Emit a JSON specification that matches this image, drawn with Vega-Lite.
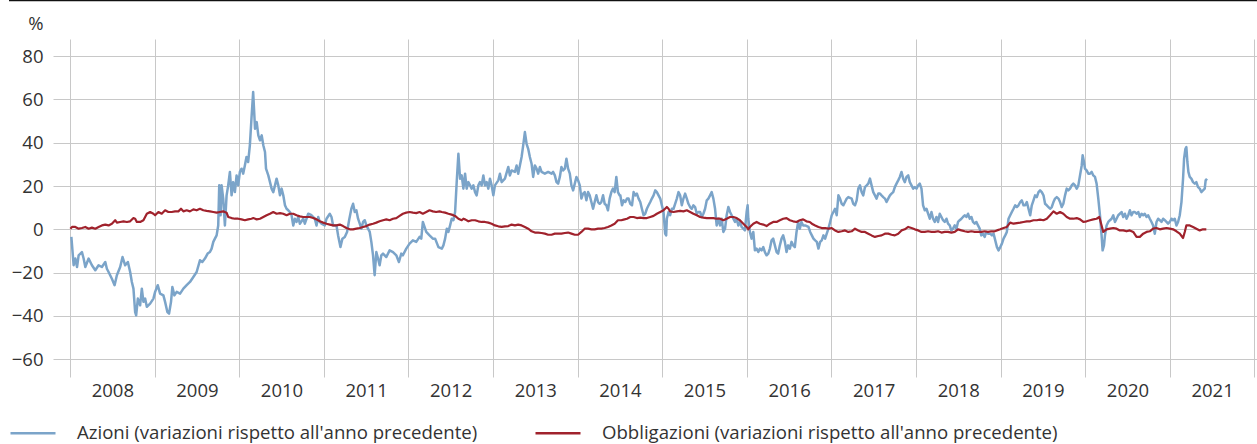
{
"$schema":"https://vega.github.io/schema/vega-lite/v6.json",
"width":1204,"height":338,
"autosize":{"type":"none"},
"padding":{"left":53,"top":39,"right":0,"bottom":67},
"background":"white",
"config":{"view":{"stroke":null},"font":"Open Sans"},
"datasets":{
"azioni":[
{"t":2008.016,"v":-3.5},{"t":2008.043,"v":-16.6},{"t":2008.063,"v":-13.5},{"t":2008.083,"v":-17.4},{"t":2008.102,"v":-12.0},{"t":2008.141,"v":-10.5},{"t":2008.161,"v":-13.5},{"t":2008.181,"v":-17.4},{"t":2008.220,"v":-13.5},{"t":2008.259,"v":-16.6},{"t":2008.299,"v":-18.9},{"t":2008.338,"v":-16.6},{"t":2008.377,"v":-17.4},{"t":2008.417,"v":-15.1},{"t":2008.436,"v":-18.2},{"t":2008.456,"v":-19.7},{"t":2008.495,"v":-22.8},{"t":2008.527,"v":-25.8},{"t":2008.554,"v":-21.2},{"t":2008.593,"v":-17.4},{"t":2008.621,"v":-12.8},{"t":2008.652,"v":-16.6},{"t":2008.684,"v":-15.1},{"t":2008.711,"v":-19.7},{"t":2008.731,"v":-24.3},{"t":2008.750,"v":-27.4},{"t":2008.770,"v":-38.2},{"t":2008.782,"v":-39.7},{"t":2008.802,"v":-32.0},{"t":2008.829,"v":-35.1},{"t":2008.849,"v":-27.4},{"t":2008.868,"v":-33.5},{"t":2008.888,"v":-32.0},{"t":2008.908,"v":-35.8},{"t":2008.947,"v":-34.3},{"t":2008.986,"v":-32.0},{"t":2009.006,"v":-28.9},{"t":2009.037,"v":-25.8},{"t":2009.065,"v":-29.7},{"t":2009.104,"v":-30.5},{"t":2009.124,"v":-33.5},{"t":2009.151,"v":-38.2},{"t":2009.171,"v":-38.9},{"t":2009.194,"v":-33.5},{"t":2009.210,"v":-26.6},{"t":2009.234,"v":-30.5},{"t":2009.261,"v":-28.9},{"t":2009.301,"v":-29.7},{"t":2009.340,"v":-27.4},{"t":2009.379,"v":-25.8},{"t":2009.418,"v":-24.3},{"t":2009.458,"v":-22.0},{"t":2009.497,"v":-19.7},{"t":2009.536,"v":-14.3},{"t":2009.564,"v":-15.1},{"t":2009.595,"v":-13.5},{"t":2009.627,"v":-11.2},{"t":2009.654,"v":-10.5},{"t":2009.674,"v":-8.9},{"t":2009.694,"v":-5.8},{"t":2009.713,"v":-4.3},{"t":2009.733,"v":-2.8},{"t":2009.752,"v":1.8},{"t":2009.764,"v":20.3},{"t":2009.780,"v":6.5},{"t":2009.792,"v":20.3},{"t":2009.811,"v":14.2},{"t":2009.831,"v":1.8},{"t":2009.851,"v":15.7},{"t":2009.870,"v":20.3},{"t":2009.890,"v":26.5},{"t":2009.910,"v":15.7},{"t":2009.929,"v":21.8},{"t":2009.949,"v":17.2},{"t":2009.969,"v":24.9},{"t":2009.988,"v":20.3},{"t":2010.008,"v":26.5},{"t":2010.028,"v":28.0},{"t":2010.047,"v":25.7},{"t":2010.067,"v":29.5},{"t":2010.086,"v":33.4},{"t":2010.106,"v":31.1},{"t":2010.126,"v":38.8},{"t":2010.145,"v":51.1},{"t":2010.165,"v":63.4},
{"t":2010.187,"v":46.5},{"t":2010.207,"v":49.5},{"t":2010.226,"v":43.4},{"t":2010.246,"v":41.1},{"t":2010.266,"v":43.4},{"t":2010.285,"v":38.8},{"t":2010.305,"v":35.7},{"t":2010.317,"v":28.0},{"t":2010.344,"v":24.9},{"t":2010.364,"v":21.8},{"t":2010.383,"v":18.8},{"t":2010.403,"v":17.2},{"t":2010.423,"v":20.3},{"t":2010.442,"v":23.4},{"t":2010.462,"v":20.3},{"t":2010.482,"v":15.7},{"t":2010.501,"v":18.8},{"t":2010.521,"v":15.7},{"t":2010.541,"v":11.1},{"t":2010.560,"v":9.5},{"t":2010.580,"v":8.8},{"t":2010.600,"v":8.0},{"t":2010.619,"v":6.5},{"t":2010.639,"v":1.8},{"t":2010.658,"v":4.9},{"t":2010.678,"v":3.4},{"t":2010.698,"v":5.7},{"t":2010.717,"v":2.6},{"t":2010.757,"v":4.9},{"t":2010.776,"v":2.6},{"t":2010.816,"v":7.2},{"t":2010.855,"v":6.5},{"t":2010.894,"v":4.9},{"t":2010.914,"v":1.8},{"t":2010.934,"v":5.7},{"t":2010.953,"v":3.4},{"t":2010.973,"v":2.6},{"t":2011.012,"v":1.8},{"t":2011.032,"v":4.9},{"t":2011.071,"v":7.2},{"t":2011.091,"v":5.7},{"t":2011.110,"v":1.8},{"t":2011.150,"v":1.8},{"t":2011.169,"v":-2.8},{"t":2011.197,"v":-8.2},{"t":2011.220,"v":-4.3},{"t":2011.248,"v":-3.5},{"t":2011.275,"v":-1.2},{"t":2011.299,"v":4.2},{"t":2011.326,"v":9.5},{"t":2011.346,"v":11.8},{"t":2011.366,"v":8.0},{"t":2011.385,"v":8.8},{"t":2011.405,"v":4.9},{"t":2011.425,"v":2.6},{"t":2011.444,"v":0.3},{"t":2011.464,"v":3.4},{"t":2011.484,"v":4.2},{"t":2011.503,"v":1.8},{"t":2011.523,"v":0.3},{"t":2011.543,"v":-1.2},{"t":2011.562,"v":-5.8},{"t":2011.582,"v":-12.0},{"t":2011.601,"v":-21.2},{"t":2011.621,"v":-10.5},{"t":2011.641,"v":-13.5},{"t":2011.660,"v":-16.6},{"t":2011.680,"v":-12.0},{"t":2011.700,"v":-11.2},{"t":2011.739,"v":-12.8},{"t":2011.778,"v":-9.7},{"t":2011.818,"v":-10.5},{"t":2011.857,"v":-12.0},{"t":2011.888,"v":-15.1},{"t":2011.916,"v":-11.2},{"t":2011.935,"v":-12.0},{"t":2011.975,"v":-8.9},{"t":2012.014,"v":-6.6},{"t":2012.053,"v":-5.1},{"t":2012.093,"v":-5.8},{"t":2012.132,"v":-3.5},{"t":2012.152,"v":-4.3},{"t":2012.171,"v":3.4},{"t":2012.191,"v":1.1},{"t":2012.211,"v":-1.2},{"t":2012.250,"v":-2.8},{"t":2012.289,"v":-4.3},
{"t":2012.316,"v":-4.3},{"t":2012.355,"v":-8.2},{"t":2012.395,"v":-8.9},{"t":2012.414,"v":-7.4},{"t":2012.434,"v":-4.3},{"t":2012.454,"v":0.3},{"t":2012.473,"v":-1.2},{"t":2012.493,"v":1.8},{"t":2012.512,"v":4.9},{"t":2012.532,"v":4.2},{"t":2012.552,"v":8.0},{"t":2012.571,"v":21.8},{"t":2012.591,"v":34.9},{"t":2012.611,"v":23.4},{"t":2012.630,"v":24.9},{"t":2012.650,"v":18.8},{"t":2012.670,"v":25.7},{"t":2012.689,"v":18.8},{"t":2012.709,"v":21.8},{"t":2012.729,"v":20.3},{"t":2012.748,"v":18.8},{"t":2012.768,"v":20.3},{"t":2012.788,"v":17.2},{"t":2012.807,"v":15.7},{"t":2012.827,"v":20.3},{"t":2012.846,"v":21.8},{"t":2012.866,"v":20.3},{"t":2012.886,"v":24.9},{"t":2012.905,"v":20.3},{"t":2012.925,"v":21.8},{"t":2012.945,"v":18.8},{"t":2012.964,"v":23.4},{"t":2012.984,"v":20.3},{"t":2013.004,"v":15.7},{"t":2013.023,"v":20.3},{"t":2013.063,"v":22.6},{"t":2013.082,"v":25.7},{"t":2013.102,"v":21.8},{"t":2013.141,"v":23.4},{"t":2013.181,"v":28.8},{"t":2013.200,"v":24.9},{"t":2013.220,"v":27.2},{"t":2013.259,"v":26.5},{"t":2013.279,"v":29.5},{"t":2013.298,"v":25.7},{"t":2013.318,"v":29.5},{"t":2013.338,"v":33.4},{"t":2013.357,"v":38.8},{"t":2013.377,"v":44.9},{"t":2013.397,"v":39.5},{"t":2013.416,"v":37.2},{"t":2013.436,"v":33.4},{"t":2013.456,"v":30.3},{"t":2013.475,"v":24.2},{"t":2013.495,"v":29.5},{"t":2013.515,"v":28.0},{"t":2013.534,"v":25.7},{"t":2013.554,"v":28.8},{"t":2013.574,"v":26.5},{"t":2013.613,"v":25.7},{"t":2013.652,"v":26.5},{"t":2013.692,"v":25.7},{"t":2013.711,"v":26.5},{"t":2013.731,"v":24.9},{"t":2013.751,"v":21.8},{"t":2013.770,"v":21.1},{"t":2013.790,"v":24.2},{"t":2013.809,"v":28.8},{"t":2013.829,"v":27.2},{"t":2013.849,"v":28.0},{"t":2013.868,"v":32.6},{"t":2013.888,"v":28.0},{"t":2013.908,"v":25.7},{"t":2013.927,"v":20.3},{"t":2013.947,"v":18.0},{"t":2013.967,"v":21.1},{"t":2013.986,"v":24.2},{"t":2014.006,"v":22.6},{"t":2014.026,"v":20.3},{"t":2014.045,"v":14.2},{"t":2014.065,"v":16.5},{"t":2014.084,"v":17.2},{"t":2014.104,"v":13.4},{"t":2014.124,"v":17.2},{"t":2014.143,"v":15.7},{"t":2014.163,"v":12.6},{"t":2014.183,"v":9.5},{"t":2014.202,"v":12.6},{"t":2014.222,"v":15.7},{"t":2014.242,"v":12.6},{"t":2014.261,"v":11.8},{"t":2014.281,"v":12.6},{"t":2014.301,"v":15.7},{"t":2014.320,"v":11.8},{"t":2014.340,"v":11.1},{"t":2014.359,"v":8.8},{"t":2014.379,"v":14.2},{"t":2014.399,"v":17.2},{"t":2014.418,"v":18.8},{"t":2014.438,"v":17.2},{"t":2014.458,"v":24.2},{"t":2014.477,"v":17.2},{"t":2014.497,"v":15.7},
{"t":2014.505,"v":15.7},{"t":2014.525,"v":11.1},{"t":2014.544,"v":13.4},{"t":2014.564,"v":12.6},{"t":2014.584,"v":14.2},{"t":2014.603,"v":14.2},{"t":2014.623,"v":11.8},{"t":2014.643,"v":11.1},{"t":2014.662,"v":17.2},{"t":2014.682,"v":15.7},{"t":2014.701,"v":16.5},{"t":2014.721,"v":14.2},{"t":2014.741,"v":12.6},{"t":2014.760,"v":9.5},{"t":2014.780,"v":6.5},{"t":2014.800,"v":7.2},{"t":2014.819,"v":9.5},{"t":2014.839,"v":11.1},{"t":2014.859,"v":12.6},{"t":2014.878,"v":14.2},{"t":2014.898,"v":15.7},{"t":2014.918,"v":18.0},{"t":2014.937,"v":17.2},{"t":2014.957,"v":15.7},{"t":2014.977,"v":14.2},{"t":2014.996,"v":11.1},{"t":2015.016,"v":8.0},{"t":2015.035,"v":-2.0},{"t":2015.047,"v":-2.8},{"t":2015.055,"v":4.9},{"t":2015.075,"v":8.0},{"t":2015.094,"v":6.5},{"t":2015.114,"v":9.5},{"t":2015.134,"v":9.5},{"t":2015.153,"v":11.8},{"t":2015.173,"v":14.2},{"t":2015.193,"v":17.2},{"t":2015.212,"v":15.7},{"t":2015.232,"v":11.1},{"t":2015.251,"v":14.2},{"t":2015.271,"v":16.5},{"t":2015.291,"v":14.2},{"t":2015.310,"v":11.8},{"t":2015.330,"v":10.3},{"t":2015.350,"v":9.5},{"t":2015.369,"v":11.1},{"t":2015.389,"v":10.3},{"t":2015.409,"v":7.2},{"t":2015.428,"v":8.0},{"t":2015.448,"v":8.0},{"t":2015.468,"v":5.7},{"t":2015.487,"v":7.2},{"t":2015.507,"v":9.5},{"t":2015.527,"v":13.4},{"t":2015.546,"v":14.2},{"t":2015.566,"v":15.7},{"t":2015.585,"v":17.2},{"t":2015.605,"v":14.2},{"t":2015.625,"v":9.5},{"t":2015.644,"v":1.8},{"t":2015.664,"v":4.9},{"t":2015.684,"v":1.8},{"t":2015.703,"v":4.9},{"t":2015.723,"v":-1.2},{"t":2015.743,"v":0.3},{"t":2015.762,"v":6.5},{"t":2015.782,"v":10.3},{"t":2015.802,"v":8.0},{"t":2015.821,"v":6.5},{"t":2015.841,"v":4.9},{"t":2015.861,"v":3.4},{"t":2015.880,"v":4.9},{"t":2015.900,"v":1.8},{"t":2015.919,"v":3.4},{"t":2015.939,"v":1.1},{"t":2015.959,"v":0.3},{"t":2015.978,"v":-0.5},{"t":2015.998,"v":8.0},{"t":2016.010,"v":11.1},{"t":2016.018,"v":4.9},{"t":2016.037,"v":-1.2},{"t":2016.057,"v":-4.3},{"t":2016.077,"v":-1.2},{"t":2016.096,"v":-9.7},{"t":2016.116,"v":-8.9},{"t":2016.136,"v":-10.5},{"t":2016.155,"v":-8.9},{"t":2016.175,"v":-9.7},{"t":2016.195,"v":-8.2},{"t":2016.214,"v":-10.5},{"t":2016.234,"v":-12.0},{"t":2016.254,"v":-11.2},{"t":2016.273,"v":-8.9},{"t":2016.293,"v":-5.1},{"t":2016.312,"v":-4.3},{"t":2016.332,"v":-7.4},{"t":2016.352,"v":-10.5},{"t":2016.371,"v":-11.2},{"t":2016.391,"v":-7.4},{"t":2016.411,"v":-4.3},{"t":2016.430,"v":-2.8},{"t":2016.450,"v":-5.8},{"t":2016.470,"v":-10.5},{"t":2016.489,"v":-7.4},{"t":2016.509,"v":-8.9},{"t":2016.529,"v":-5.8},{"t":2016.548,"v":-7.4},{"t":2016.568,"v":-8.2},{"t":2016.588,"v":-1.2},{"t":2016.607,"v":3.4},{"t":2016.627,"v":0.3},{"t":2016.646,"v":3.4},{"t":2016.666,"v":1.8},
{"t":2016.690,"v":1.8},{"t":2016.729,"v":1.1},{"t":2016.749,"v":-1.2},{"t":2016.769,"v":-2.8},{"t":2016.788,"v":-4.3},{"t":2016.808,"v":-5.1},{"t":2016.828,"v":-5.8},{"t":2016.847,"v":-8.9},{"t":2016.867,"v":-5.8},{"t":2016.886,"v":-5.1},{"t":2016.906,"v":-2.8},{"t":2016.926,"v":-4.3},{"t":2016.945,"v":-2.0},{"t":2016.965,"v":0.3},{"t":2016.985,"v":3.4},{"t":2017.004,"v":6.5},{"t":2017.024,"v":8.0},{"t":2017.043,"v":9.5},{"t":2017.063,"v":6.5},{"t":2017.083,"v":15.7},{"t":2017.102,"v":14.2},{"t":2017.122,"v":11.8},{"t":2017.142,"v":11.1},{"t":2017.161,"v":12.6},{"t":2017.181,"v":14.2},{"t":2017.200,"v":14.9},{"t":2017.240,"v":14.2},{"t":2017.259,"v":11.8},{"t":2017.279,"v":11.1},{"t":2017.299,"v":13.4},{"t":2017.318,"v":18.8},{"t":2017.338,"v":20.3},{"t":2017.358,"v":17.2},{"t":2017.377,"v":15.7},{"t":2017.397,"v":19.5},{"t":2017.417,"v":20.3},{"t":2017.436,"v":21.1},{"t":2017.456,"v":23.4},{"t":2017.475,"v":20.3},{"t":2017.495,"v":17.2},{"t":2017.515,"v":15.7},{"t":2017.534,"v":14.2},{"t":2017.554,"v":16.5},{"t":2017.574,"v":16.5},{"t":2017.593,"v":15.7},{"t":2017.613,"v":14.9},{"t":2017.633,"v":14.2},{"t":2017.652,"v":12.6},{"t":2017.672,"v":14.2},{"t":2017.692,"v":15.7},{"t":2017.711,"v":16.5},{"t":2017.731,"v":17.2},{"t":2017.750,"v":19.5},{"t":2017.770,"v":21.1},{"t":2017.790,"v":22.6},{"t":2017.809,"v":24.2},{"t":2017.829,"v":26.5},{"t":2017.849,"v":23.4},{"t":2017.868,"v":21.8},{"t":2017.888,"v":24.2},{"t":2017.908,"v":24.9},{"t":2017.927,"v":21.8},{"t":2017.947,"v":20.3},{"t":2017.967,"v":18.8},{"t":2017.986,"v":19.5},{"t":2018.006,"v":18.8},{"t":2018.026,"v":20.3},{"t":2018.045,"v":21.1},{"t":2018.065,"v":18.8},{"t":2018.084,"v":11.1},{"t":2018.104,"v":8.8},{"t":2018.124,"v":9.5},{"t":2018.143,"v":7.2},{"t":2018.163,"v":4.9},{"t":2018.183,"v":8.0},{"t":2018.202,"v":4.9},{"t":2018.222,"v":3.4},{"t":2018.242,"v":5.7},{"t":2018.261,"v":3.4},{"t":2018.281,"v":7.2},{"t":2018.301,"v":5.7},{"t":2018.320,"v":4.2},{"t":2018.340,"v":3.4},{"t":2018.360,"v":4.9},{"t":2018.379,"v":2.6},{"t":2018.399,"v":1.8},{"t":2018.418,"v":-0.5},{"t":2018.438,"v":0.3},{"t":2018.458,"v":1.8},{"t":2018.478,"v":0.3},{"t":2018.497,"v":3.4},{"t":2018.517,"v":4.2},{"t":2018.537,"v":4.9},{"t":2018.556,"v":5.7},{"t":2018.576,"v":6.5},{"t":2018.596,"v":5.7},{"t":2018.615,"v":7.2},{"t":2018.635,"v":4.9},{"t":2018.655,"v":5.7},{"t":2018.674,"v":3.4},{"t":2018.694,"v":2.6},{"t":2018.714,"v":3.4},{"t":2018.733,"v":1.8},{"t":2018.753,"v":0.3},{"t":2018.772,"v":-2.8},{"t":2018.792,"v":-2.0},{"t":2018.812,"v":-3.5},{"t":2018.831,"v":-1.2},{"t":2018.851,"v":-2.0},
{"t":2018.878,"v":-2.0},{"t":2018.898,"v":-2.8},{"t":2018.917,"v":-2.0},{"t":2018.937,"v":-5.1},{"t":2018.957,"v":-8.2},{"t":2018.976,"v":-9.7},{"t":2018.996,"v":-8.2},{"t":2019.016,"v":-6.6},{"t":2019.035,"v":-4.3},{"t":2019.055,"v":-2.8},{"t":2019.074,"v":-1.2},{"t":2019.094,"v":4.9},{"t":2019.114,"v":6.5},{"t":2019.133,"v":8.0},{"t":2019.153,"v":9.5},{"t":2019.173,"v":11.1},{"t":2019.192,"v":10.3},{"t":2019.212,"v":11.1},{"t":2019.232,"v":12.6},{"t":2019.251,"v":13.4},{"t":2019.271,"v":11.1},{"t":2019.291,"v":11.1},{"t":2019.310,"v":12.6},{"t":2019.330,"v":9.5},{"t":2019.350,"v":6.5},{"t":2019.369,"v":11.1},{"t":2019.389,"v":13.4},{"t":2019.408,"v":15.7},{"t":2019.428,"v":14.9},{"t":2019.448,"v":17.2},{"t":2019.467,"v":18.0},{"t":2019.487,"v":17.2},{"t":2019.507,"v":15.7},{"t":2019.526,"v":11.8},{"t":2019.546,"v":11.1},{"t":2019.566,"v":10.3},{"t":2019.585,"v":9.5},{"t":2019.605,"v":10.3},{"t":2019.625,"v":12.6},{"t":2019.644,"v":14.2},{"t":2019.664,"v":14.9},{"t":2019.684,"v":14.2},{"t":2019.703,"v":12.6},{"t":2019.723,"v":10.3},{"t":2019.742,"v":11.8},{"t":2019.762,"v":15.7},{"t":2019.782,"v":18.8},{"t":2019.801,"v":18.0},{"t":2019.821,"v":18.8},{"t":2019.841,"v":20.3},{"t":2019.860,"v":21.1},{"t":2019.880,"v":20.3},{"t":2019.900,"v":18.8},{"t":2019.919,"v":20.3},{"t":2019.939,"v":24.9},{"t":2019.959,"v":29.5},{"t":2019.970,"v":34.2},{"t":2019.986,"v":31.1},{"t":2019.998,"v":28.0},{"t":2020.017,"v":27.2},{"t":2020.037,"v":25.7},{"t":2020.057,"v":25.7},{"t":2020.077,"v":26.5},{"t":2020.096,"v":24.9},{"t":2020.116,"v":24.2},{"t":2020.135,"v":21.1},{"t":2020.155,"v":14.2},{"t":2020.175,"v":6.5},{"t":2020.194,"v":-2.8},{"t":2020.206,"v":-9.7},{"t":2020.222,"v":-7.4},{"t":2020.234,"v":-2.8},{"t":2020.253,"v":1.8},{"t":2020.273,"v":3.4},{"t":2020.293,"v":4.2},{"t":2020.312,"v":4.9},{"t":2020.332,"v":6.5},{"t":2020.352,"v":3.4},{"t":2020.371,"v":4.9},{"t":2020.391,"v":6.5},{"t":2020.410,"v":7.2},{"t":2020.430,"v":8.0},{"t":2020.450,"v":5.7},{"t":2020.469,"v":7.2},{"t":2020.489,"v":4.9},{"t":2020.509,"v":6.5},{"t":2020.528,"v":8.8},{"t":2020.548,"v":6.5},{"t":2020.568,"v":8.0},{"t":2020.587,"v":8.0},{"t":2020.607,"v":7.2},{"t":2020.627,"v":8.0},{"t":2020.646,"v":5.7},{"t":2020.666,"v":7.2},{"t":2020.686,"v":6.5},{"t":2020.705,"v":7.2},{"t":2020.725,"v":5.7},{"t":2020.744,"v":6.5},{"t":2020.764,"v":4.9},{"t":2020.784,"v":3.4},{"t":2020.803,"v":1.8},{"t":2020.823,"v":-2.0},{"t":2020.843,"v":3.4},{"t":2020.862,"v":4.9},{"t":2020.882,"v":4.2},{"t":2020.902,"v":3.4},{"t":2020.921,"v":4.9},{"t":2020.941,"v":4.2},{"t":2020.961,"v":3.4},{"t":2020.980,"v":2.6},{"t":2021.000,"v":3.4},{"t":2021.020,"v":4.9},{"t":2021.039,"v":4.2},{"t":2021.059,"v":4.9},{"t":2021.079,"v":1.8},{"t":2021.098,"v":3.4},{"t":2021.118,"v":6.5},{"t":2021.138,"v":12.6},{"t":2021.157,"v":23.4},{"t":2021.169,"v":32.6},{"t":2021.185,"v":37.2},{"t":2021.196,"v":38.0},{"t":2021.208,"v":31.1},{"t":2021.220,"v":26.5},{"t":2021.236,"v":24.2},{"t":2021.255,"v":23.4},{"t":2021.275,"v":21.8},{"t":2021.295,"v":21.1},{"t":2021.314,"v":21.8},{"t":2021.334,"v":19.5},{"t":2021.354,"v":18.8},{"t":2021.373,"v":17.2},{"t":2021.393,"v":18.0},{"t":2021.413,"v":18.8},{"t":2021.424,"v":22.6},{"t":2021.440,"v":23.4}
],
"obbligazioni":[
{"t":2008.004,"v":0.3},{"t":2008.024,"v":1.1},{"t":2008.063,"v":1.1},{"t":2008.102,"v":0.3},{"t":2008.141,"v":0.6},{"t":2008.181,"v":1.1},{"t":2008.220,"v":0.3},{"t":2008.259,"v":0.8},{"t":2008.299,"v":0.3},{"t":2008.338,"v":1.1},{"t":2008.377,"v":1.8},{"t":2008.417,"v":2.2},{"t":2008.456,"v":1.8},{"t":2008.495,"v":2.6},{"t":2008.534,"v":4.2},{"t":2008.554,"v":3.1},{"t":2008.593,"v":3.4},{"t":2008.633,"v":3.7},{"t":2008.672,"v":3.4},{"t":2008.711,"v":3.7},{"t":2008.750,"v":5.2},{"t":2008.770,"v":4.9},{"t":2008.790,"v":3.4},{"t":2008.829,"v":3.4},{"t":2008.868,"v":4.2},{"t":2008.908,"v":7.2},{"t":2008.947,"v":8.0},{"t":2008.986,"v":7.2},{"t":2009.006,"v":6.5},{"t":2009.045,"v":8.0},{"t":2009.084,"v":7.2},{"t":2009.124,"v":8.8},{"t":2009.163,"v":8.0},{"t":2009.202,"v":8.0},{"t":2009.242,"v":8.3},{"t":2009.281,"v":8.3},{"t":2009.312,"v":9.5},{"t":2009.340,"v":8.3},{"t":2009.379,"v":8.8},{"t":2009.418,"v":8.3},{"t":2009.458,"v":9.2},{"t":2009.497,"v":8.8},{"t":2009.536,"v":9.5},{"t":2009.576,"v":8.8},{"t":2009.615,"v":8.5},{"t":2009.654,"v":8.3},{"t":2009.694,"v":8.0},{"t":2009.733,"v":7.7},{"t":2009.772,"v":8.0},{"t":2009.811,"v":8.3},{"t":2009.851,"v":7.7},{"t":2009.870,"v":5.7},{"t":2009.910,"v":5.2},{"t":2009.949,"v":4.9},{"t":2009.988,"v":4.9},{"t":2010.028,"v":4.6},{"t":2010.067,"v":4.2},{"t":2010.106,"v":4.6},{"t":2010.145,"v":4.9},
{"t":2010.167,"v":5.2},{"t":2010.207,"v":4.6},{"t":2010.246,"v":4.9},{"t":2010.285,"v":5.7},{"t":2010.324,"v":6.5},{"t":2010.364,"v":7.2},{"t":2010.403,"v":8.0},{"t":2010.442,"v":7.2},{"t":2010.482,"v":7.5},{"t":2010.521,"v":7.2},{"t":2010.560,"v":6.5},{"t":2010.600,"v":7.2},{"t":2010.639,"v":7.2},{"t":2010.678,"v":6.5},{"t":2010.717,"v":6.0},{"t":2010.757,"v":5.7},{"t":2010.796,"v":5.7},{"t":2010.835,"v":5.7},{"t":2010.875,"v":5.2},{"t":2010.914,"v":4.6},{"t":2010.953,"v":3.7},{"t":2010.992,"v":3.1},{"t":2011.032,"v":2.6},{"t":2011.071,"v":2.2},{"t":2011.110,"v":1.8},{"t":2011.150,"v":1.8},{"t":2011.189,"v":2.2},{"t":2011.228,"v":1.5},{"t":2011.267,"v":0.6},{"t":2011.307,"v":0.0},{"t":2011.346,"v":0.0},{"t":2011.385,"v":0.3},{"t":2011.425,"v":0.6},{"t":2011.464,"v":1.1},{"t":2011.503,"v":1.5},{"t":2011.543,"v":2.2},{"t":2011.582,"v":2.6},{"t":2011.621,"v":3.1},{"t":2011.660,"v":3.7},{"t":2011.700,"v":4.2},{"t":2011.739,"v":4.6},{"t":2011.778,"v":4.2},{"t":2011.818,"v":4.9},{"t":2011.857,"v":5.2},{"t":2011.896,"v":6.2},{"t":2011.935,"v":7.2},{"t":2011.975,"v":7.7},{"t":2012.014,"v":8.0},{"t":2012.053,"v":7.7},{"t":2012.093,"v":7.5},{"t":2012.132,"v":8.0},{"t":2012.171,"v":7.2},{"t":2012.211,"v":8.0},{"t":2012.250,"v":8.8},{"t":2012.289,"v":8.3},{"t":2012.328,"v":8.0},{"t":2012.368,"v":8.3},
{"t":2012.395,"v":8.0},{"t":2012.434,"v":7.7},{"t":2012.473,"v":7.2},{"t":2012.512,"v":6.8},{"t":2012.552,"v":6.2},{"t":2012.591,"v":4.9},{"t":2012.630,"v":4.2},{"t":2012.650,"v":4.9},{"t":2012.670,"v":4.6},{"t":2012.709,"v":3.7},{"t":2012.748,"v":4.2},{"t":2012.788,"v":4.2},{"t":2012.827,"v":3.7},{"t":2012.866,"v":3.4},{"t":2012.905,"v":3.4},{"t":2012.945,"v":3.1},{"t":2012.984,"v":2.6},{"t":2013.023,"v":1.8},{"t":2013.063,"v":1.4},{"t":2013.102,"v":1.1},{"t":2013.141,"v":1.4},{"t":2013.181,"v":1.5},{"t":2013.220,"v":2.2},{"t":2013.259,"v":1.8},{"t":2013.298,"v":2.2},{"t":2013.338,"v":1.8},{"t":2013.377,"v":1.1},{"t":2013.416,"v":0.3},{"t":2013.456,"v":-0.9},{"t":2013.495,"v":-1.5},{"t":2013.534,"v":-1.5},{"t":2013.574,"v":-1.7},{"t":2013.613,"v":-2.0},{"t":2013.652,"v":-2.5},{"t":2013.692,"v":-2.5},{"t":2013.731,"v":-2.0},{"t":2013.770,"v":-2.0},{"t":2013.809,"v":-2.0},{"t":2013.849,"v":-1.7},{"t":2013.888,"v":-1.5},{"t":2013.927,"v":-2.0},{"t":2013.967,"v":-2.5},{"t":2014.006,"v":-2.5},{"t":2014.045,"v":-1.2},{"t":2014.084,"v":0.3},{"t":2014.124,"v":0.3},{"t":2014.163,"v":0.0},{"t":2014.202,"v":0.0},{"t":2014.242,"v":0.3},{"t":2014.281,"v":0.3},{"t":2014.320,"v":0.6},{"t":2014.359,"v":1.1},{"t":2014.399,"v":1.8},{"t":2014.438,"v":2.6},{"t":2014.477,"v":4.2},{"t":2014.517,"v":4.2},
{"t":2014.544,"v":4.5},{"t":2014.584,"v":4.9},{"t":2014.623,"v":5.7},{"t":2014.662,"v":5.7},{"t":2014.701,"v":5.2},{"t":2014.741,"v":5.4},{"t":2014.780,"v":5.2},{"t":2014.819,"v":5.2},{"t":2014.859,"v":5.7},{"t":2014.898,"v":6.2},{"t":2014.937,"v":7.2},{"t":2014.977,"v":8.0},{"t":2015.016,"v":8.8},{"t":2015.055,"v":10.3},{"t":2015.075,"v":9.5},{"t":2015.094,"v":8.3},{"t":2015.134,"v":8.0},{"t":2015.173,"v":8.3},{"t":2015.212,"v":8.5},{"t":2015.251,"v":8.3},{"t":2015.291,"v":8.8},{"t":2015.330,"v":8.0},{"t":2015.369,"v":7.2},{"t":2015.409,"v":6.5},{"t":2015.448,"v":5.7},{"t":2015.487,"v":5.4},{"t":2015.527,"v":5.2},{"t":2015.566,"v":5.2},{"t":2015.605,"v":5.2},{"t":2015.644,"v":4.9},{"t":2015.684,"v":4.9},{"t":2015.723,"v":4.2},{"t":2015.762,"v":4.9},{"t":2015.802,"v":5.7},{"t":2015.841,"v":5.7},{"t":2015.880,"v":5.2},{"t":2015.919,"v":4.2},{"t":2015.959,"v":2.6},{"t":2015.998,"v":1.1},{"t":2016.018,"v":0.0},{"t":2016.037,"v":1.1},{"t":2016.077,"v":2.6},{"t":2016.116,"v":3.4},{"t":2016.155,"v":2.6},{"t":2016.195,"v":2.2},{"t":2016.234,"v":1.5},{"t":2016.273,"v":2.6},{"t":2016.312,"v":3.4},{"t":2016.352,"v":3.4},{"t":2016.391,"v":4.2},{"t":2016.430,"v":4.9},{"t":2016.470,"v":5.2},{"t":2016.509,"v":4.2},{"t":2016.548,"v":3.7},{"t":2016.588,"v":3.4},{"t":2016.627,"v":4.2},{"t":2016.666,"v":4.6},{"t":2016.705,"v":3.7},{"t":2016.745,"v":3.4},
{"t":2016.769,"v":2.6},{"t":2016.808,"v":1.8},{"t":2016.847,"v":1.1},{"t":2016.886,"v":0.6},{"t":2016.926,"v":0.6},{"t":2016.965,"v":0.3},{"t":2017.004,"v":0.6},{"t":2017.043,"v":-0.5},{"t":2017.083,"v":-1.2},{"t":2017.122,"v":-0.9},{"t":2017.161,"v":-0.5},{"t":2017.200,"v":-1.2},{"t":2017.240,"v":-0.9},{"t":2017.279,"v":0.3},{"t":2017.318,"v":-0.5},{"t":2017.358,"v":-1.2},{"t":2017.397,"v":-1.2},{"t":2017.436,"v":-2.0},{"t":2017.475,"v":-2.8},{"t":2017.515,"v":-3.5},{"t":2017.554,"v":-3.1},{"t":2017.593,"v":-2.8},{"t":2017.633,"v":-2.0},{"t":2017.672,"v":-2.0},{"t":2017.711,"v":-2.5},{"t":2017.750,"v":-2.8},{"t":2017.790,"v":-2.0},{"t":2017.829,"v":-0.5},{"t":2017.868,"v":0.0},{"t":2017.908,"v":1.1},{"t":2017.947,"v":0.6},{"t":2017.986,"v":0.0},{"t":2018.026,"v":-0.5},{"t":2018.065,"v":-1.2},{"t":2018.104,"v":-1.2},{"t":2018.143,"v":-0.9},{"t":2018.183,"v":-1.2},{"t":2018.222,"v":-1.2},{"t":2018.261,"v":-0.9},{"t":2018.301,"v":-1.5},{"t":2018.340,"v":-1.2},{"t":2018.379,"v":-1.2},{"t":2018.418,"v":-1.5},{"t":2018.458,"v":-1.2},{"t":2018.497,"v":0.0},{"t":2018.537,"v":-0.5},{"t":2018.576,"v":-0.9},{"t":2018.615,"v":-1.2},{"t":2018.655,"v":-0.9},{"t":2018.694,"v":-1.2},{"t":2018.733,"v":-1.2},{"t":2018.772,"v":-1.2},{"t":2018.812,"v":-0.9},{"t":2018.851,"v":-1.2},{"t":2018.890,"v":-0.9},{"t":2018.930,"v":-0.9},
{"t":2018.957,"v":-0.5},{"t":2018.996,"v":0.0},{"t":2019.035,"v":0.6},{"t":2019.074,"v":1.1},{"t":2019.114,"v":3.1},{"t":2019.153,"v":2.6},{"t":2019.192,"v":2.9},{"t":2019.232,"v":3.1},{"t":2019.271,"v":3.4},{"t":2019.310,"v":3.7},{"t":2019.350,"v":3.7},{"t":2019.389,"v":4.2},{"t":2019.428,"v":4.2},{"t":2019.467,"v":4.5},{"t":2019.507,"v":4.2},{"t":2019.546,"v":4.9},{"t":2019.585,"v":6.5},{"t":2019.625,"v":8.3},{"t":2019.664,"v":7.2},{"t":2019.703,"v":8.0},{"t":2019.742,"v":7.2},{"t":2019.782,"v":5.7},{"t":2019.821,"v":4.9},{"t":2019.860,"v":4.9},{"t":2019.900,"v":5.2},{"t":2019.939,"v":4.6},{"t":2019.978,"v":3.4},{"t":2020.017,"v":3.7},{"t":2020.057,"v":4.2},{"t":2020.096,"v":4.6},{"t":2020.135,"v":4.9},{"t":2020.167,"v":5.7},{"t":2020.194,"v":1.8},{"t":2020.214,"v":-1.2},{"t":2020.253,"v":0.0},{"t":2020.293,"v":0.3},{"t":2020.332,"v":0.6},{"t":2020.371,"v":0.3},{"t":2020.410,"v":-0.5},{"t":2020.450,"v":-0.5},{"t":2020.489,"v":-0.9},{"t":2020.528,"v":-0.5},{"t":2020.568,"v":-1.2},{"t":2020.607,"v":-3.5},{"t":2020.646,"v":-3.5},{"t":2020.686,"v":-2.0},{"t":2020.725,"v":-1.2},{"t":2020.764,"v":-0.9},{"t":2020.803,"v":0.3},{"t":2020.843,"v":0.6},{"t":2020.882,"v":0.0},{"t":2020.921,"v":0.3},{"t":2020.961,"v":0.6},{"t":2021.000,"v":0.3},{"t":2021.039,"v":0.0},{"t":2021.079,"v":-0.9},{"t":2021.118,"v":-2.0},{"t":2021.157,"v":-4.0},{"t":2021.177,"v":-1.2},{"t":2021.196,"v":1.8},{"t":2021.236,"v":1.8},{"t":2021.275,"v":1.1},{"t":2021.314,"v":0.3},{"t":2021.354,"v":-0.5},{"t":2021.393,"v":0.0},{"t":2021.432,"v":0.0}
]
},
"layer":[
{"data":{"name":"azioni"},
 "mark":{"type":"line","strokeWidth":2.5,"strokeJoin":"round"},
 "encoding":{
  "x":{"field":"t","type":"quantitative",
   "scale":{"domain":[2007.799,2022.031],"nice":false,"zero":false},
   "axis":{"title":null,"values":[2008,2009,2010,2011,2012,2013,2014,2015,2016,2017,2018,2019,2020,2021,2022],
    "format":"d","labelExpr":"datum.value >= 2022 ? '' : datum.label",
    "labelOffset":42.3,"labelAlign":"center","labelFlush":false,"labelOverlap":false,
    "ticks":false,"domain":false,"grid":true,"gridColor":"#c8c8c8","gridWidth":1,
    "labelFont":"Open Sans","labelFontSize":18.5,"labelFontWeight":"normal","labelColor":"#333333","labelPadding":4}},
  "y":{"field":"v","type":"quantitative",
   "scale":{"domain":[-68.2,87.9],"nice":false,"zero":false},
   "axis":{"values":[-60,-40,-20,0,20,40,60,80],"ticks":false,"domain":false,"grid":true,"gridColor":"#c8c8c8","gridWidth":1,
    "labelFont":"Open Sans","labelFontSize":18.5,"labelFontWeight":"normal","labelColor":"#333333","labelPadding":10,
    "title":"%","titleAngle":0,"titleAlign":"right","titleBaseline":"middle","titleX":-10,"titleY":-16,
    "titleFont":"Open Sans","titleFontSize":18.5,"titleFontWeight":"normal","titleColor":"#333333"}},
  "color":{"datum":"Azioni","type":"nominal",
   "scale":{"domain":["Azioni","Obbligazioni"],"range":["#7BA4C9","#A0222C"]},
   "legend":{"title":null,"orient":"none","legendX":-44,"legendY":370,"direction":"horizontal",
    "symbolType":"stroke","symbolSize":2025,"symbolStrokeWidth":2.5,
    "labelFont":"Open Sans","labelFontSize":18.6,"labelFontWeight":"normal","labelColor":"#333333","labelOffset":20,
    "columnPadding":52,"padding":0,"labelLimit":0,
    "labelExpr":"datum.label + \" (variazioni rispetto all'anno precedente)\""}}
 }},
{"data":{"name":"obbligazioni"},
 "mark":{"type":"line","strokeWidth":2.2,"strokeJoin":"round"},
 "encoding":{
  "x":{"field":"t","type":"quantitative"},
  "y":{"field":"v","type":"quantitative"},
  "color":{"datum":"Obbligazioni","type":"nominal"}
 }},
{"data":{"values":[{}]},
 "mark":{"type":"rule","color":"#111111","strokeWidth":1.5},
 "encoding":{
  "x":{"datum":2007.279,"type":"quantitative"},
  "x2":{"datum":2022.04},
  "y":{"datum":105.7,"type":"quantitative"}
 }}
]
}
